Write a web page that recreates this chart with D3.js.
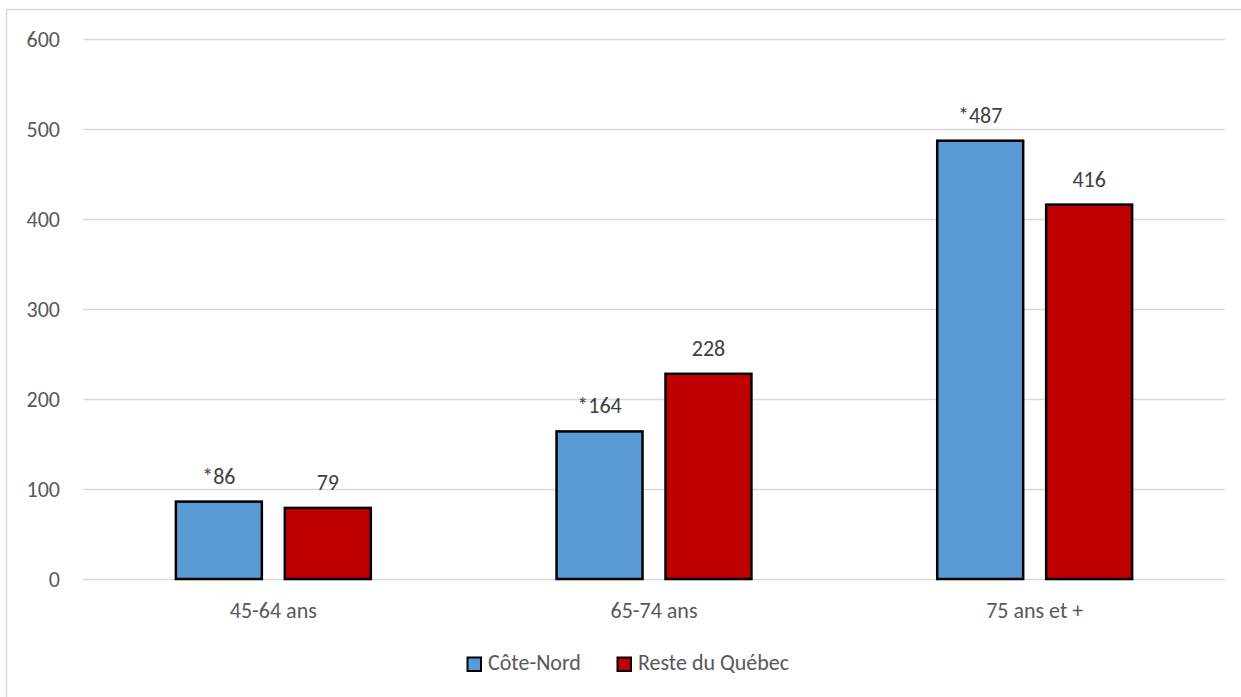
<!DOCTYPE html>
<html><head><meta charset="utf-8">
<script src="https://cdn.jsdelivr.net/npm/d3@7"></script>
<style>body{margin:0;background:#fff}svg{display:block}</style>
</head><body>
<script>
const categories = ["45-64 ans", "65-74 ans", "75 ans et +"];
const seriesNames = ["Côte-Nord", "Reste du Québec"];
const coteNord = [86, 164, 487];
const resteQuebec = [79, 228, 416];
const coteNordLabels = ["*86", "*164", "*487"];
const resteQuebecLabels = ["79", "228", "416"];
const yTicks = [0, 100, 200, 300, 400, 500, 600];
const colors = ["#5b9bd5", "#c00000"];

(function () {
const W = 1241, H = 697;
const font = "Calibri, Carlito, Lato, 'Open Sans', sans-serif";
const fs = 22;
const svg = d3.select("body").append("svg").attr("width", W).attr("height", H);
svg.append("rect").attr("x", 6.5).attr("y", 9.5).attr("width", W).attr("height", H)
  .attr("fill", "#fff").attr("stroke", "#d9d9d9").attr("stroke-width", 1.5);

const pLeft = 83, pRight = 1225, pTop = 39, pBottom = 579;
const y = d3.scaleLinear().domain([0, 600]).range([pBottom, pTop]);
const x0 = d3.scaleBand().domain(categories).range([pLeft, pRight]).paddingInner(0.488).paddingOuter(0.244);
const x1 = d3.scaleBand().domain(seriesNames).range([0, x0.bandwidth()]).paddingInner(0.211);

// gridlines
svg.append("g").selectAll("line").data(yTicks).join("line")
  .attr("x1", pLeft).attr("x2", pRight)
  .attr("y1", d => Math.round(y(d)) + 0.5).attr("y2", d => Math.round(y(d)) + 0.5)
  .attr("stroke", "#d9d9d9").attr("stroke-width", 1.5);

// y labels
svg.append("g").selectAll("text").data(yTicks).join("text")
  .attr("x", 60).attr("y", d => y(d) + 7.5).attr("text-anchor", "end")
  .attr("font-family", font).attr("font-size", fs).attr("fill", "#595959").text(d => d);

// x labels
svg.append("g").selectAll("text").data(categories).join("text")
  .attr("x", d => x0(d) + x0.bandwidth() / 2).attr("y", 618).attr("text-anchor", "middle")
  .attr("font-family", font).attr("font-size", fs).attr("fill", "#595959").text(d => d);

const rows = categories.map((c, i) => ({
  cat: c,
  vals: [
    {s: seriesNames[0], v: coteNord[i], lab: coteNordLabels[i], c: colors[0]},
    {s: seriesNames[1], v: resteQuebec[i], lab: resteQuebecLabels[i], c: colors[1]}
  ]
}));

const g = svg.append("g").selectAll("g").data(rows).join("g")
  .attr("transform", d => `translate(${x0(d.cat)},0)`);
g.selectAll("rect").data(d => d.vals).join("rect")
  .attr("x", d => x1(d.s)).attr("width", x1.bandwidth())
  .attr("y", d => y(d.v)).attr("height", d => y(0) - y(d.v))
  .attr("fill", d => d.c).attr("stroke", "#000").attr("stroke-width", 2.5);
g.selectAll("text").data(d => d.vals).join("text")
  .attr("x", d => x1(d.s) + x1.bandwidth() / 2).attr("y", d => y(d.v) - 18)
  .attr("text-anchor", "middle").attr("font-family", font).attr("font-size", fs)
  .attr("fill", "#404040").text(d => d.lab);

// legend
const legendX = [467, 617];
const lg = svg.append("g").selectAll("g").data(seriesNames).join("g")
  .attr("transform", (d, i) => `translate(${legendX[i]},657)`);
lg.append("rect").attr("x", 0.5).attr("y", 0.5).attr("width", 13.5).attr("height", 13.5)
  .attr("fill", (d, i) => colors[i]).attr("stroke", "#000").attr("stroke-width", 2);
lg.append("text").attr("x", 21).attr("y", 13)
  .attr("font-family", font).attr("font-size", fs).attr("fill", "#595959").text(d => d);
})();
</script>
</body></html>
